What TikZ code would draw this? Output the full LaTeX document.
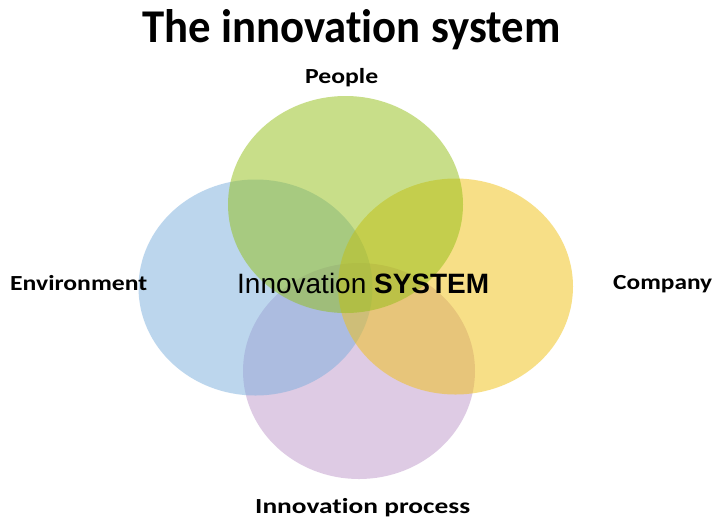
\documentclass[tikz,border=0pt]{standalone}
\usepackage{fontspec}
\usepackage{graphicx}
\setmainfont[Ligatures={NoCommon}]{Carlito}
\newfontfamily\arialf{Liberation Sans}
\usetikzlibrary{shapes.geometric}
\definecolor{cgreen}{RGB}{147,191,21}
\definecolor{cblue}{RGB}{123,175,221}
\definecolor{cyellow}{RGB}{241,193,17}
\definecolor{cpurple}{RGB}{191,153,203}
\tikzset{
  blob/.style={ellipse, draw=none, inner sep=0pt, fill opacity=0.5,
    minimum width=234pt, minimum height=216pt},
  lbl/.style={inner sep=0pt, font=\bfseries\fontsize{21.5}{24}\selectfont, anchor=base west},
}
\begin{document}
\begin{tikzpicture}[x=1pt,y=-1pt]
\useasboundingbox (0,0) rectangle (717,520);
\fill[white] (0,0) rectangle (717,520);
\node[blob, fill=cpurple, minimum width=232pt] (process) at (359,371) {};
\node[blob, fill=cblue] (environment) at (255.5,287.5) {};
\node[blob, fill=cyellow, minimum width=235pt] (company) at (455.5,286.5) {};
\node[blob, fill=cgreen, minimum width=235pt, minimum height=217pt] (people) at (345.5,204.5) {};
\node[inner sep=0pt, anchor=base west, font=\bfseries\fontsize{47}{52}\selectfont] (title) at (142,42) {\resizebox{418pt}{\height}{The innovation system}};
\node[lbl] (lpeople) at (305,83) {\resizebox{73pt}{\height}{People}};
\node[lbl] (lenv) at (10,290) {\resizebox{137pt}{\height}{Environment}};
\node[lbl] (lcomp) at (613,289) {\resizebox{99pt}{\height}{Company}};
\node[lbl] (lproc) at (255,513) {\resizebox{215pt}{\height}{Innovation process}};
\node[inner sep=0pt, anchor=base west, font=\arialf\fontsize{28}{32}\selectfont] (center) at (237,293) {\resizebox{252pt}{\height}{Innovation \textbf{SYSTEM}}};
\end{tikzpicture}
\end{document}
